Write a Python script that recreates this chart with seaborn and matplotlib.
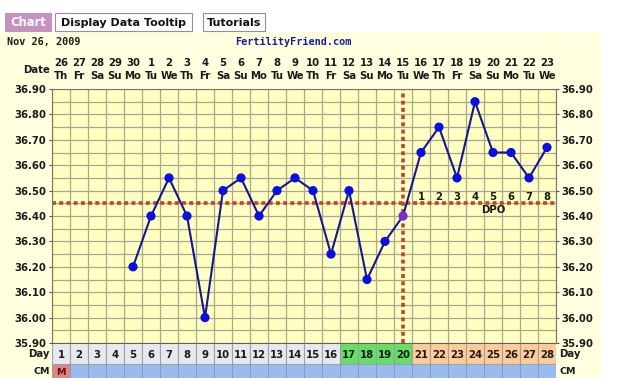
import matplotlib
matplotlib.use("Agg")
import matplotlib.pyplot as plt
import matplotlib.transforms as mtransforms
from matplotlib.patches import Rectangle
import seaborn as sns
import pandas as pd
import numpy as np

# ---------------- data ----------------
cycle_days = list(range(1, 29))
date_nums = [26, 27, 28, 29, 30, 1, 2, 3, 4, 5, 6, 7, 8, 9, 10, 11, 12, 13, 14, 15, 16, 17, 18, 19, 20, 21, 22, 23]
weekdays = ["Th", "Fr", "Sa", "Su", "Mo", "Tu", "We"] * 4
temp_days = list(range(5, 29))
temps = [36.20, 36.40, 36.55, 36.40, 36.00, 36.50, 36.55, 36.40, 36.50, 36.55, 36.50, 36.25,
         36.50, 36.15, 36.30, 36.40, 36.65, 36.75, 36.55, 36.85, 36.65, 36.65, 36.55, 36.67]
ovulation_day = 20
coverline = 36.45
dpo_labels = ["1", "2", "3", "4", "5", "6", "7", "8"]
y_ticks = [35.90, 36.00, 36.10, 36.20, 36.30, 36.40, 36.50, 36.60, 36.70, 36.80, 36.90]
fertile_days = [17, 18, 19, 20]
cm_labels = {1: "M"}

# ---------------- style ----------------
sns.set_style("white")
plt.rcParams["font.family"] = ["DejaVu Sans"]
plt.rcParams["font.weight"] = "bold"

W, H = 617, 378
fig = plt.figure(figsize=(W / 100, H / 100), dpi=100)
fig.patch.set_facecolor("white")

def fr(x0, y0, x1, y1):
    return [x0 / W, 1 - y1 / H, (x1 - x0) / W, (y1 - y0) / H]

PANEL = "#FFFFE0"
PLOT = "#FFFFC2"
GRID = "#A8A890"
TXT = "#1a1a1a"
FS = 7.3

# background panel
bg = fig.add_axes([0, 0, 1, 1], zorder=-5)
bg.set_xlim(0, W); bg.set_ylim(H, 0); bg.axis("off")
bg.add_patch(Rectangle((0, 32), 601, H - 32, facecolor=PANEL, edgecolor="none"))
# header tabs
bg.add_patch(Rectangle((5, 13), 47, 19, facecolor="#C690C0", edgecolor="none"))
bg.text(28.5, 22.5, "Chart", color="white", fontsize=8.3, ha="center", va="center")
bg.add_patch(Rectangle((55, 13), 137, 18, facecolor="white", edgecolor="#9a8aa8", lw=0.8))
bg.text(123.5, 22.5, "Display Data Tooltip", color="#111111", fontsize=8.0, ha="center", va="center")
bg.add_patch(Rectangle((203, 13), 62, 18, facecolor="white", edgecolor="#9a8aa8", lw=0.8))
bg.text(234, 22.5, "Tutorials", color="#111111", fontsize=8.0, ha="center", va="center")
bg.text(7, 42, "Nov 26, 2009", color=TXT, fontsize=FS, ha="left", va="center", family="DejaVu Sans Mono")
bg.text(235, 42, "FertilityFriend.com", color="#1a1a99", fontsize=FS, ha="left", va="center",
        family="DejaVu Sans Mono")
bg.text(50, 70, "Date", color=TXT, fontsize=FS, ha="right", va="center")

# ---------------- main chart ----------------
ax = fig.add_axes(fr(52, 89, 556, 343))
ax.set_facecolor(PLOT)
df = pd.DataFrame({"day": temp_days, "temp": temps})
ax.set_xlim(0.5, 28.5)
ax.set_ylim(35.90, 36.90)
for x in np.arange(0.5, 28.6, 1):
    ax.axvline(x, color=GRID, lw=0.9, zorder=0)
for y in np.arange(35.90, 36.91, 0.05):
    ax.axhline(y, color=GRID, lw=0.9, zorder=0)

ax.axhline(coverline, color="#C0442A", lw=2.6, ls=(0, (1.1, 0.9)), zorder=2)
ax.axvline(ovulation_day, color="#C0442A", lw=2.6, ls=(0, (1.1, 0.9)), zorder=2)

sns.lineplot(data=df, x="day", y="temp", ax=ax, color="#16168f", lw=1.5, zorder=3)
colors = ["#7a2ad0" if d == ovulation_day else "#0b10e0" for d in temp_days]
sns.scatterplot(data=df, x="day", y="temp", ax=ax, c=colors, s=44, edgecolor="none", zorder=4)

for i, lab in enumerate(dpo_labels):
    ax.text(ovulation_day + 1 + i, coverline + 0.007, lab, fontsize=FS, color=TXT,
            ha="center", va="bottom", zorder=5)
ax.text(25, coverline - 0.008, "DPO", fontsize=FS, color=TXT, ha="center", va="top", zorder=5)

ax.set_xlabel(""); ax.set_ylabel("")
ax.set_xticks([])
ax.set_yticks(y_ticks)
ax.set_yticklabels([f"{v:.2f}" for v in y_ticks])
ax.tick_params(axis="y", which="both", left=True, right=True, labelleft=True, labelright=True,
               length=2.5, width=0.8, color="#555555", labelsize=FS, labelcolor=TXT, pad=1.5)
for s in ax.spines.values():
    s.set_color("#777766"); s.set_linewidth(0.8)

# date header labels
trans = mtransforms.blended_transform_factory(ax.transData, fig.transFigure)
for d, n, w in zip(cycle_days, date_nums, weekdays):
    ax.text(d, 1 - 63 / H, str(n), transform=trans, fontsize=FS, color=TXT, ha="center", va="center",
            clip_on=False)
    ax.text(d, 1 - 76 / H, w, transform=trans, fontsize=FS, color=TXT, ha="center", va="center",
            clip_on=False)

# ---------------- day row ----------------
axd = fig.add_axes(fr(52, 343, 556, 364))
axd.set_xlim(0.5, 28.5); axd.set_ylim(0, 1); axd.axis("off")
day_colors = []
for d in cycle_days:
    if d in fertile_days:
        day_colors.append("#66DD66")
    elif d > ovulation_day:
        day_colors.append("#FFCC99")
    else:
        day_colors.append("#E8E8EE")
axd.bar(cycle_days, [1] * 28, width=1, color=day_colors, edgecolor="#A0A0A0", lw=0.8)
for d in cycle_days:
    axd.text(d, 0.45, str(d), fontsize=FS, color=TXT, ha="center", va="center")
axd.add_line(plt.Line2D([0.5, 28.5], [1, 1], color="#555555", lw=1.2))
bg.text(50, 354, "Day", color=TXT, fontsize=FS, ha="right", va="center")
bg.text(559, 354, "Day", color=TXT, fontsize=FS, ha="left", va="center")

# ---------------- CM row ----------------
axc = fig.add_axes(fr(52, 364, 556, 386))
axc.set_xlim(0.5, 28.5); axc.set_ylim(0, 1); axc.axis("off")
cm_colors = ["#E08585" if d in cm_labels else "#99BBEE" for d in cycle_days]
axc.bar(cycle_days, [1] * 28, width=1, color=cm_colors, edgecolor="#8899AA", lw=0.6)
for d, lab in cm_labels.items():
    axc.text(d, 0.62, lab, fontsize=6.8, color="#661111", ha="center", va="center")
bg.text(50, 367, "CM", color=TXT, fontsize=6.8, ha="right", va="top")
bg.text(559, 367, "CM", color=TXT, fontsize=6.8, ha="left", va="top")

fig.savefig("out.png", dpi=100, facecolor=fig.get_facecolor())
